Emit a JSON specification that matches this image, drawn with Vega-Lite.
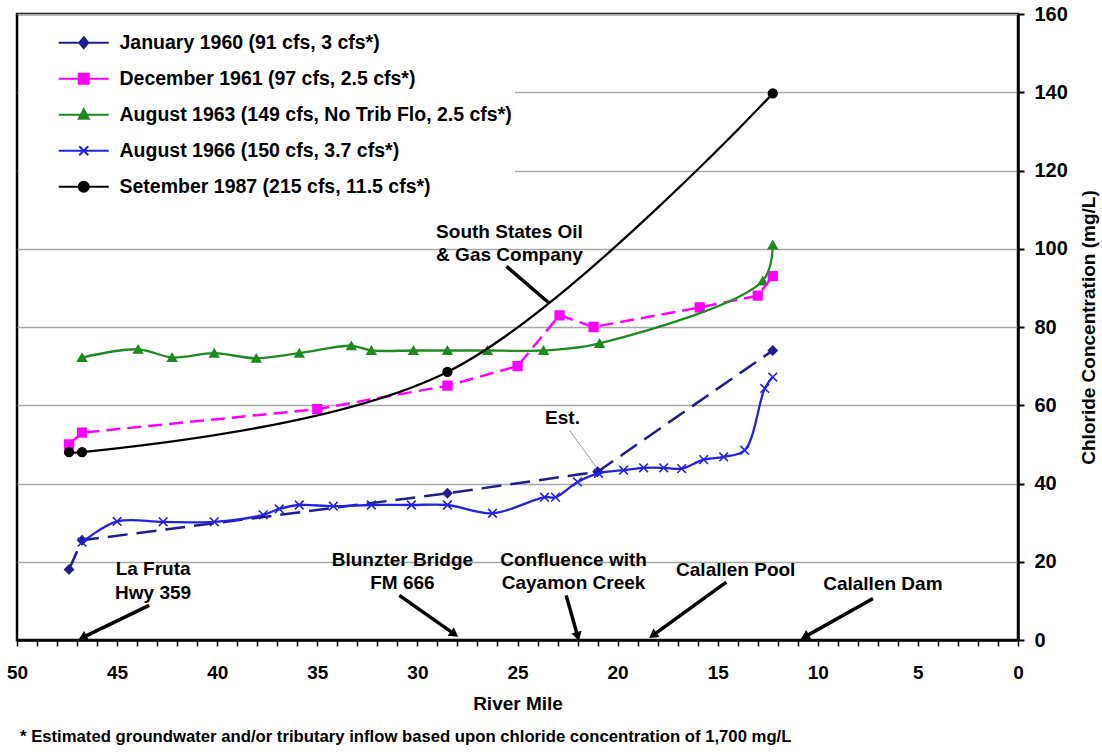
{
  "$schema": "https://vega.github.io/schema/vega-lite/v6.json",
  "width": 1001,
  "height": 626,
  "autosize": {"type": "none"},
  "padding": {"left": 17, "top": 14, "right": 84, "bottom": 115},
  "background": "white",
  "config": {"font": "Liberation Sans", "view": {"stroke": "black", "strokeWidth": 2.5}},
  "title": {
    "text": "* Estimated groundwater and/or tributary inflow based upon chloride concentration of 1,700 mg/L",
    "orient": "bottom", "anchor": "start", "frame": "group",
    "font": "Liberation Sans", "fontSize": 16.7, "fontWeight": "bold", "color": "black", "offset": 16, "dx": 3
  },
  "datasets": {
    "series": [
      {"s": "January 1960 (91 cfs, 3 cfs*)", "mile": 47.4, "value": 18},
      {"s": "January 1960 (91 cfs, 3 cfs*)", "mile": 46.75, "value": 25.5},
      {"s": "January 1960 (91 cfs, 3 cfs*)", "mile": 28.5, "value": 37.5},
      {"s": "January 1960 (91 cfs, 3 cfs*)", "mile": 21.0, "value": 43},
      {"s": "January 1960 (91 cfs, 3 cfs*)", "mile": 12.25, "value": 74},
      {"s": "December 1961  (97 cfs, 2.5 cfs*)", "mile": 47.4, "value": 50},
      {"s": "December 1961  (97 cfs, 2.5 cfs*)", "mile": 46.75, "value": 53},
      {"s": "December 1961  (97 cfs, 2.5 cfs*)", "mile": 35.0, "value": 59},
      {"s": "December 1961  (97 cfs, 2.5 cfs*)", "mile": 28.5, "value": 65},
      {"s": "December 1961  (97 cfs, 2.5 cfs*)", "mile": 25.0, "value": 70},
      {"s": "December 1961  (97 cfs, 2.5 cfs*)", "mile": 22.9, "value": 83},
      {"s": "December 1961  (97 cfs, 2.5 cfs*)", "mile": 21.2, "value": 80},
      {"s": "December 1961  (97 cfs, 2.5 cfs*)", "mile": 15.9, "value": 85},
      {"s": "December 1961  (97 cfs, 2.5 cfs*)", "mile": 13.0, "value": 88},
      {"s": "December 1961  (97 cfs, 2.5 cfs*)", "mile": 12.25, "value": 93},
      {"s": "August 1963 (149 cfs, No Trib Flo, 2.5 cfs*)", "mile": 46.75, "value": 72.2},
      {"s": "August 1963 (149 cfs, No Trib Flo, 2.5 cfs*)", "mile": 43.95, "value": 74.3},
      {"s": "August 1963 (149 cfs, No Trib Flo, 2.5 cfs*)", "mile": 42.25, "value": 72.2},
      {"s": "August 1963 (149 cfs, No Trib Flo, 2.5 cfs*)", "mile": 40.15, "value": 73.3},
      {"s": "August 1963 (149 cfs, No Trib Flo, 2.5 cfs*)", "mile": 38.05, "value": 72},
      {"s": "August 1963 (149 cfs, No Trib Flo, 2.5 cfs*)", "mile": 35.9, "value": 73.3},
      {"s": "August 1963 (149 cfs, No Trib Flo, 2.5 cfs*)", "mile": 33.3, "value": 75.2},
      {"s": "August 1963 (149 cfs, No Trib Flo, 2.5 cfs*)", "mile": 32.3, "value": 74},
      {"s": "August 1963 (149 cfs, No Trib Flo, 2.5 cfs*)", "mile": 30.2, "value": 74},
      {"s": "August 1963 (149 cfs, No Trib Flo, 2.5 cfs*)", "mile": 28.5, "value": 74},
      {"s": "August 1963 (149 cfs, No Trib Flo, 2.5 cfs*)", "mile": 26.5, "value": 74},
      {"s": "August 1963 (149 cfs, No Trib Flo, 2.5 cfs*)", "mile": 23.7, "value": 74},
      {"s": "August 1963 (149 cfs, No Trib Flo, 2.5 cfs*)", "mile": 20.9, "value": 75.8},
      {"s": "August 1963 (149 cfs, No Trib Flo, 2.5 cfs*)", "mile": 12.75, "value": 91.8},
      {"s": "August 1963 (149 cfs, No Trib Flo, 2.5 cfs*)", "mile": 12.25, "value": 101},
      {"s": "August 1966 (150 cfs, 3.7 cfs*)", "mile": 46.75, "value": 25},
      {"s": "August 1966 (150 cfs, 3.7 cfs*)", "mile": 45.0, "value": 30.3},
      {"s": "August 1966 (150 cfs, 3.7 cfs*)", "mile": 42.7, "value": 30.2},
      {"s": "August 1966 (150 cfs, 3.7 cfs*)", "mile": 40.15, "value": 30.2},
      {"s": "August 1966 (150 cfs, 3.7 cfs*)", "mile": 37.7, "value": 32},
      {"s": "August 1966 (150 cfs, 3.7 cfs*)", "mile": 36.9, "value": 33.5},
      {"s": "August 1966 (150 cfs, 3.7 cfs*)", "mile": 35.9, "value": 34.5},
      {"s": "August 1966 (150 cfs, 3.7 cfs*)", "mile": 34.2, "value": 34.2},
      {"s": "August 1966 (150 cfs, 3.7 cfs*)", "mile": 32.3, "value": 34.5},
      {"s": "August 1966 (150 cfs, 3.7 cfs*)", "mile": 30.3, "value": 34.5},
      {"s": "August 1966 (150 cfs, 3.7 cfs*)", "mile": 28.5, "value": 34.5},
      {"s": "August 1966 (150 cfs, 3.7 cfs*)", "mile": 26.25, "value": 32.4},
      {"s": "August 1966 (150 cfs, 3.7 cfs*)", "mile": 23.65, "value": 36.5},
      {"s": "August 1966 (150 cfs, 3.7 cfs*)", "mile": 23.1, "value": 36.5},
      {"s": "August 1966 (150 cfs, 3.7 cfs*)", "mile": 22.0, "value": 40.4},
      {"s": "August 1966 (150 cfs, 3.7 cfs*)", "mile": 20.95, "value": 42.6},
      {"s": "August 1966 (150 cfs, 3.7 cfs*)", "mile": 19.7, "value": 43.4},
      {"s": "August 1966 (150 cfs, 3.7 cfs*)", "mile": 18.7, "value": 44},
      {"s": "August 1966 (150 cfs, 3.7 cfs*)", "mile": 17.7, "value": 44},
      {"s": "August 1966 (150 cfs, 3.7 cfs*)", "mile": 16.8, "value": 43.8},
      {"s": "August 1966 (150 cfs, 3.7 cfs*)", "mile": 15.7, "value": 46.1},
      {"s": "August 1966 (150 cfs, 3.7 cfs*)", "mile": 14.7, "value": 46.8},
      {"s": "August 1966 (150 cfs, 3.7 cfs*)", "mile": 13.65, "value": 48.5},
      {"s": "August 1966 (150 cfs, 3.7 cfs*)", "mile": 12.65, "value": 64.3},
      {"s": "August 1966 (150 cfs, 3.7 cfs*)", "mile": 12.25, "value": 67.2},
      {"s": "Setember 1987 (215 cfs, 11.5 cfs*)", "mile": 47.4, "value": 48},
      {"s": "Setember 1987 (215 cfs, 11.5 cfs*)", "mile": 46.75, "value": 48},
      {"s": "Setember 1987 (215 cfs, 11.5 cfs*)", "mile": 28.5, "value": 68.5},
      {"s": "Setember 1987 (215 cfs, 11.5 cfs*)", "mile": 12.25, "value": 139.7}
    ],
    "notes": [
      {"t": "South States Oil\n& Gas Company", "mile": 25.4, "value": 104.3},
      {"t": "Est.", "mile": 22.75, "value": 56.7},
      {"t": "La Fruta\nHwy 359", "mile": 43.2, "value": 18.1},
      {"t": "Blunzter Bridge\nFM 666", "mile": 30.75, "value": 20.5},
      {"t": "Confluence with\nCayamon Creek", "mile": 22.2, "value": 20.5},
      {"t": "Calallen Pool", "mile": 14.1, "value": 17.8},
      {"t": "Calallen Dam", "mile": 6.75, "value": 14.4}
    ],
    "arrows": [
      {"kind": "pointer", "mile": 25.55, "value": 95.5, "mile2": 23.4, "value2": 86},
      {"kind": "leader", "mile": 22.4, "value": 53.6, "mile2": 21.07, "value2": 44.2},
      {"kind": "arrow", "mile": 43.4, "value": 8.85, "mile2": 46.73, "value2": 0.6},
      {"kind": "arrow", "mile": 30.9, "value": 11.4, "mile2": 28.15, "value2": 1.5},
      {"kind": "arrow", "mile": 22.57, "value": 11.4, "mile2": 21.99, "value2": 0.9},
      {"kind": "arrow", "mile": 14.57, "value": 14.8, "mile2": 18.24, "value2": 1.2},
      {"kind": "arrow", "mile": 7.24, "value": 10.6, "mile2": 10.65, "value2": 0.8}
    ]
  },
  "encoding": {
    "x": {
      "field": "mile", "type": "quantitative",
      "scale": {"domain": [0, 50], "reverse": true, "nice": false, "zero": false},
      "axis": {
        "title": "River Mile", "values": [0,1,2,3,4,5,6,7,8,9,10,11,12,13,14,15,16,17,18,19,20,21,22,23,24,25,26,27,28,29,30,31,32,33,34,35,36,37,38,39,40,41,42,43,44,45,46,47,48,49,50],
        "labelExpr": "datum.value % 5 === 0 ? datum.label : ''",
        "labelFlush": false, "labelOverlap": false, "grid": false,
        "domainColor": "black", "domainWidth": 2.5, "tickColor": "black", "tickWidth": 1.5, "tickSize": 6,
        "labelFont": "Liberation Sans", "labelFontSize": 19, "labelFontWeight": "bold", "labelColor": "black", "labelPadding": 17,
        "titleFont": "Liberation Sans", "titleFontSize": 19, "titleFontWeight": "bold", "titleColor": "black", "titlePadding": 12
      }
    },
    "y": {
      "field": "value", "type": "quantitative",
      "scale": {"domain": [0, 160], "nice": false},
      "axis": {
        "orient": "right", "title": "Chloride Concentration (mg/L)", "values": [0,20,40,60,80,100,120,140,160],
        "grid": true, "gridColor": "#a8a8a8", "gridWidth": 1.3,
        "domainColor": "black", "domainWidth": 2.5, "tickColor": "black", "tickWidth": 2, "tickSize": 6,
        "labelFont": "Liberation Sans", "labelFontSize": 20, "labelFontWeight": "bold", "labelColor": "black", "labelPadding": 10,
        "titleFont": "Liberation Sans", "titleFontSize": 19, "titleFontWeight": "bold", "titleColor": "black",
        "titleAngle": 270, "titleBaseline": "top", "titlePadding": 12
      }
    }
  },
  "layer": [
    {
      "data": {"name": "series"},
      "mark": {
        "type": "point", "filled": false, "size": 75, "opacity": 1, "strokeWidth": 1.6,
        "fill": {"expr": "scale('color', datum.s || datum.value)"},
        "shape": {"expr": "datum.s === 'January 1960 (91 cfs, 3 cfs*)' ? 'diamond' : datum.s === 'December 1961  (97 cfs, 2.5 cfs*)' ? 'square' : datum.s === 'August 1963 (149 cfs, No Trib Flo, 2.5 cfs*)' ? 'triangle-up' : datum.s === 'August 1966 (150 cfs, 3.7 cfs*)' ? 'M-1,-1L1,1M-1,1L1,-1' : 'circle'"}
      },
      "encoding": {
        "color": {
          "field": "s", "type": "nominal",
          "scale": {
            "domain": ["January 1960 (91 cfs, 3 cfs*)", "December 1961  (97 cfs, 2.5 cfs*)", "August 1963 (149 cfs, No Trib Flo, 2.5 cfs*)", "August 1966 (150 cfs, 3.7 cfs*)", "Setember 1987 (215 cfs, 11.5 cfs*)"],
            "range": ["#1f1f8c", "#ff00ff", "#1f8a1f", "#2424e0", "#000000"]
          },
          "legend": {
            "title": null, "orient": "none", "legendX": 2, "legendY": 16, "padding": 3, "fillColor": "white",
            "labelFont": "Liberation Sans", "labelFontSize": 19.5, "labelFontWeight": "bold", "labelColor": "black", "labelLimit": 1000,
            "symbolSize": 100, "symbolStrokeWidth": 2, "symbolOffset": 52, "labelOffset": 26, "rowPadding": 15,
            "symbolType": {"expr": "datum.value === 'January 1960 (91 cfs, 3 cfs*)' ? 'M-5,0H5M0,-1.1L0.9,0L0,1.1L-0.9,0Z' : datum.value === 'December 1961  (97 cfs, 2.5 cfs*)' ? 'M-5,0H5M-1,-1H1V1H-1Z' : datum.value === 'August 1963 (149 cfs, No Trib Flo, 2.5 cfs*)' ? 'M-5,0H5M0,-1.1L1,0.8H-1Z' : datum.value === 'August 1966 (150 cfs, 3.7 cfs*)' ? 'M-5,0H5M-0.9,-0.9L0.9,0.9M-0.9,0.9L0.9,-0.9' : 'M-5,0H5M1,0A1,1,0,1,1,-1,0A1,1,0,1,1,1,0Z'"}
          }
        }
      }
    },
    {
      "data": {"name": "series"},
      "transform": [{"filter": "datum.s === 'January 1960 (91 cfs, 3 cfs*)'"}],
      "mark": {"type": "line", "strokeWidth": 2.5, "strokeDash": [20, 9]},
      "encoding": {"color": {"field": "s", "type": "nominal"}}
    },
    {
      "data": {"name": "series"},
      "transform": [{"filter": "datum.s === 'December 1961  (97 cfs, 2.5 cfs*)'"}],
      "mark": {"type": "line", "strokeWidth": 2.5, "strokeDash": [14, 7]},
      "encoding": {"color": {"field": "s", "type": "nominal"}}
    },
    {
      "data": {"name": "series"},
      "transform": [{"filter": "datum.s !== 'January 1960 (91 cfs, 3 cfs*)' && datum.s !== 'December 1961  (97 cfs, 2.5 cfs*)'"}],
      "mark": {"type": "line", "strokeWidth": 2.3, "interpolate": "catmull-rom"},
      "encoding": {"color": {"field": "s", "type": "nominal"}}
    },
    {
      "data": {"name": "arrows"},
      "transform": [{"filter": "datum.kind !== 'leader'"}],
      "mark": {"type": "rule", "color": "black", "strokeWidth": 3.5},
      "encoding": {"x2": {"field": "mile2"}, "y2": {"field": "value2"}}
    },
    {
      "data": {"name": "arrows"},
      "transform": [{"filter": "datum.kind === 'leader'"}],
      "mark": {"type": "rule", "color": "#999999", "strokeWidth": 1},
      "encoding": {"x2": {"field": "mile2"}, "y2": {"field": "value2"}}
    },
    {
      "data": {"name": "arrows"},
      "transform": [{"filter": "datum.kind === 'arrow'"}],
      "mark": {
        "type": "point", "shape": "triangle-up", "filled": true, "color": "black", "opacity": 1, "size": 110,
        "angle": {"expr": "atan2(scale('x', datum.mile2) - scale('x', datum.mile), scale('y', datum.value) - scale('y', datum.value2)) * 180 / PI"}
      },
      "encoding": {"x": {"field": "mile2", "type": "quantitative"}, "y": {"field": "value2", "type": "quantitative"}}
    },
    {
      "data": {"name": "notes"},
      "mark": {"type": "text", "font": "Liberation Sans", "fontSize": 19, "fontWeight": "bold", "color": "black", "align": "center", "baseline": "middle", "lineBreak": "\n", "lineHeight": 23.5},
      "encoding": {"text": {"field": "t"}}
    }
  ]
}
